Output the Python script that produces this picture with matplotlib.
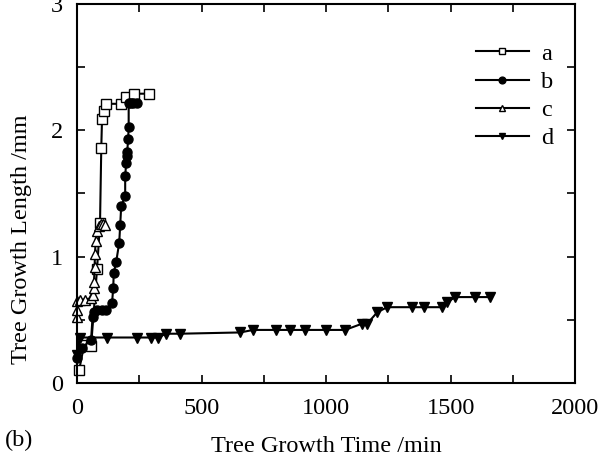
import numpy as np
import matplotlib.pyplot as plt
from matplotlib.ticker import MultipleLocator

plt.rcParams['font.family'] = ['Liberation Serif', 'DejaVu Serif']
plt.rcParams['font.size'] = 17.5

# data
a_time = [8, 28, 56, 80, 92, 97, 100, 108, 116, 177, 197, 229, 289]
a_len = [0.10, 0.30, 0.29, 0.90, 1.27, 1.86, 2.09, 2.15, 2.21, 2.21, 2.26, 2.29, 2.29]

b_time = [0, 20, 56, 62, 68, 80, 100, 116, 140, 145, 147, 157, 169, 173, 177,
          193, 193, 197, 199, 201, 205, 207, 207, 215, 225, 241]
b_len = [0.20, 0.28, 0.34, 0.52, 0.56, 0.58, 0.58, 0.58, 0.63, 0.75, 0.87, 0.96, 1.11, 1.25, 1.40,
         1.48, 1.64, 1.74, 1.80, 1.83, 1.93, 2.03, 2.22, 2.22, 2.22, 2.22]

c_time = [0, 0, 0, 12, 30, 55, 62, 66, 68, 70, 72, 74, 78, 88, 96, 104, 112]
c_len = [0.52, 0.58, 0.65, 0.66, 0.66, 0.67, 0.70, 0.75, 0.80, 0.92, 1.02, 1.12, 1.20, 1.24, 1.26, 1.26, 1.25]

d_time = [0, 10, 120, 240, 297, 325, 357, 413, 655, 707, 799, 855, 916, 1000, 1076,
          1145, 1165, 1205, 1245, 1345, 1394, 1466, 1486, 1518, 1598, 1659]
d_len = [0.22, 0.36, 0.36, 0.36, 0.36, 0.36, 0.39, 0.39, 0.40, 0.42, 0.42, 0.42, 0.42, 0.42, 0.42,
         0.47, 0.47, 0.56, 0.60, 0.60, 0.60, 0.60, 0.64, 0.68, 0.68, 0.68]

fig = plt.figure(figsize=(6.12, 4.72), dpi=100)
ax = fig.add_axes([0.126, 0.1886, 0.814, 0.8029])

style = dict(color='black', lw=1.5, ms=6.5, mec='black', clip_on=False)
ax.plot(a_time, a_len, marker='s', mfc='white', label='a', **style)
ax.plot(b_time, b_len, marker='o', mfc='black', label='b', **style)
ax.plot(c_time, c_len, marker='^', mfc='white', label='c', **style)
ax.plot(d_time, d_len, marker='v', mfc='black', label='d', **style)

ax.set_xlim(0, 2000)
ax.set_ylim(0, 3)
ax.xaxis.set_major_locator(MultipleLocator(500))
ax.xaxis.set_minor_locator(MultipleLocator(250))
ax.yaxis.set_major_locator(MultipleLocator(1))
ax.yaxis.set_minor_locator(MultipleLocator(0.5))
ax.tick_params(which='both', direction='in', top=True, right=True, length=6, width=1.2)
ax.tick_params(axis='x', pad=11)
ax.tick_params(axis='y', pad=10)
for s in ax.spines.values():
    s.set_linewidth(1.5)

ax.set_xlabel('Tree Growth Time /min', labelpad=12)
ax.set_ylabel('Tree Growth Length /mm')
ax.yaxis.set_label_coords(-0.09, 0.38)
fig.text(0.008, 0.055, '(b)', ha='left', va='baseline')

ax.legend(loc='upper right', bbox_to_anchor=(1.0, 0.955), frameon=False,
          handlelength=2.2, labelspacing=0.25, handletextpad=0.5, numpoints=1,
          markerscale=0.75)

fig.savefig('out.png', dpi=100)
